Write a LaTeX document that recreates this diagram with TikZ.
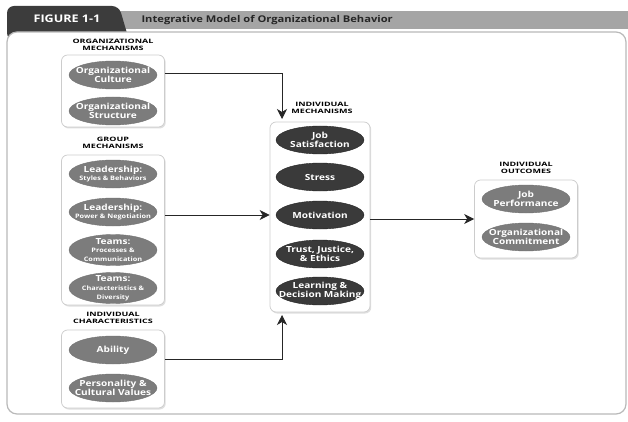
\documentclass[tikz,border=0pt]{standalone}
\usepackage{fontspec}
\setmainfont{Open Sans}[FakeStretch=1.2]
\newfontfamily\capsfont{Open Sans}[FakeStretch=1.5]
\usetikzlibrary{shapes.geometric,arrows.meta,shadows}

\definecolor{ovalgrey}{HTML}{7C7C7C}
\definecolor{ovaldark}{HTML}{3A3A3A}
\definecolor{tabgrey}{HTML}{3C3C3C}
\definecolor{bargrey}{HTML}{A5A5A5}
\newcommand{\subtxt}{\fontsize{6.1}{6.6}\selectfont}

\begin{document}
\begin{tikzpicture}[x=1pt, y=-1pt,
  panel/.style={draw=gray!40, line width=0.7pt, fill=white, rounded corners=6pt,
    drop shadow={opacity=0.25, shadow xshift=1.2pt, shadow yshift=-1.5pt}},
  oval/.style={ellipse, draw=black!55, fill=ovalgrey, text=white, align=center,
    font=\bfseries\fontsize{8.4}{8.9}\selectfont, minimum width=88pt, minimum height=28pt,
    inner xsep=-16pt, inner ysep=-9pt},
  darkoval/.style={oval, fill=ovaldark, draw=black!85},
  head/.style={font=\capsfont\bfseries\fontsize{6}{6.6}\selectfont, align=center},
  arrow/.style={-{Stealth[length=10pt, width=10pt, inset=3pt]}, line width=0.8pt, black!85}]
  \useasboundingbox (0,0) rectangle (628,422);

  % header
  \fill[bargrey] (118,11) rectangle (628,29);
  \fill[tabgrey, rounded corners=7pt] (7,40) |- (119,6) -- (129,40) -- cycle;
  \draw[draw=gray!55, line width=1.2pt, fill=white, rounded corners=10pt] (7,32) rectangle (626,414);
  \node[font=\bfseries\fontsize{10.5}{10.5}\selectfont, text=white] (fig) at (67,19) {FIGURE 1-1};
  \node[anchor=west, font=\bfseries\fontsize{9.3}{10}\selectfont, text=black!85] (title) at (138,20) {Integrative Model of Organizational Behavior};

  % left column
  \node[head] (orghead) at (113,45) {ORGANIZATIONAL\\MECHANISMS};
  \node[panel, minimum width=103pt, minimum height=72pt] (orgbox) at (113,91) {};
  \node[oval] (culture) at (113,75) {Organizational\\Culture};
  \node[oval] (structure) at (113,111) {Organizational\\Structure};

  \node[head] (grphead) at (113,143) {GROUP\\MECHANISMS};
  \node[panel, minimum width=103pt, minimum height=150pt] (grpbox) at (113,230) {};
  \node[oval] (styles) at (113,174) {Leadership:\\{\subtxt Styles \& Behaviors}};
  \node[oval] (power) at (113,212) {Leadership:\\{\subtxt Power \& Negotiation}};
  \node[oval, minimum height=31pt] (process) at (113,250) {Teams:\\{\subtxt Processes \&}\\{\subtxt Communication}};
  \node[oval, minimum height=31pt] (diverse) at (113,288) {Teams:\\{\subtxt Characteristics \&}\\{\subtxt Diversity}};

  \node[head] (chrhead) at (113,318) {INDIVIDUAL\\CHARACTERISTICS};
  \node[panel, minimum width=103pt, minimum height=78pt] (chrbox) at (113,369) {};
  \node[oval] (ability) at (113,350) {Ability};
  \node[oval] (personality) at (113,388) {Personality \&\\Cultural Values};

  % middle column
  \node[head] (indhead) at (322,108) {INDIVIDUAL\\MECHANISMS};
  \node[panel, minimum width=100pt, minimum height=190pt] (indbox) at (320,217) {};
  \node[darkoval] (jobsat) at (320,140) {Job\\Satisfaction};
  \node[darkoval] (stress) at (320,177) {Stress};
  \node[darkoval] (motiv) at (320,215) {Motivation};
  \node[darkoval] (trust) at (320,254) {Trust, Justice,\\\& Ethics};
  \node[darkoval] (learning) at (320,291) {Learning \&\\Decision Making};

  % right column
  \node[head] (outhead) at (526,168) {INDIVIDUAL\\OUTCOMES};
  \node[panel, minimum width=103pt, minimum height=78pt] (outbox) at (526,219) {};
  \node[oval] (perform) at (526,199) {Job\\Performance};
  \node[oval] (commit) at (526,237) {Organizational\\Commitment};

  % arrows
  \coordinate (intop) at (282,119);
  \coordinate (inbot) at (282,315);
  \draw[arrow] ([yshift=18pt]orgbox.east) -| (intop);
  \draw[arrow] (grpbox.east |- motiv) -- (indbox.west |- motiv);
  \draw[arrow] ([yshift=10pt]chrbox.east) -| (inbot);
  \draw[arrow] (indbox.east |- outbox.west) -- (outbox.west);
\end{tikzpicture}
\end{document}
